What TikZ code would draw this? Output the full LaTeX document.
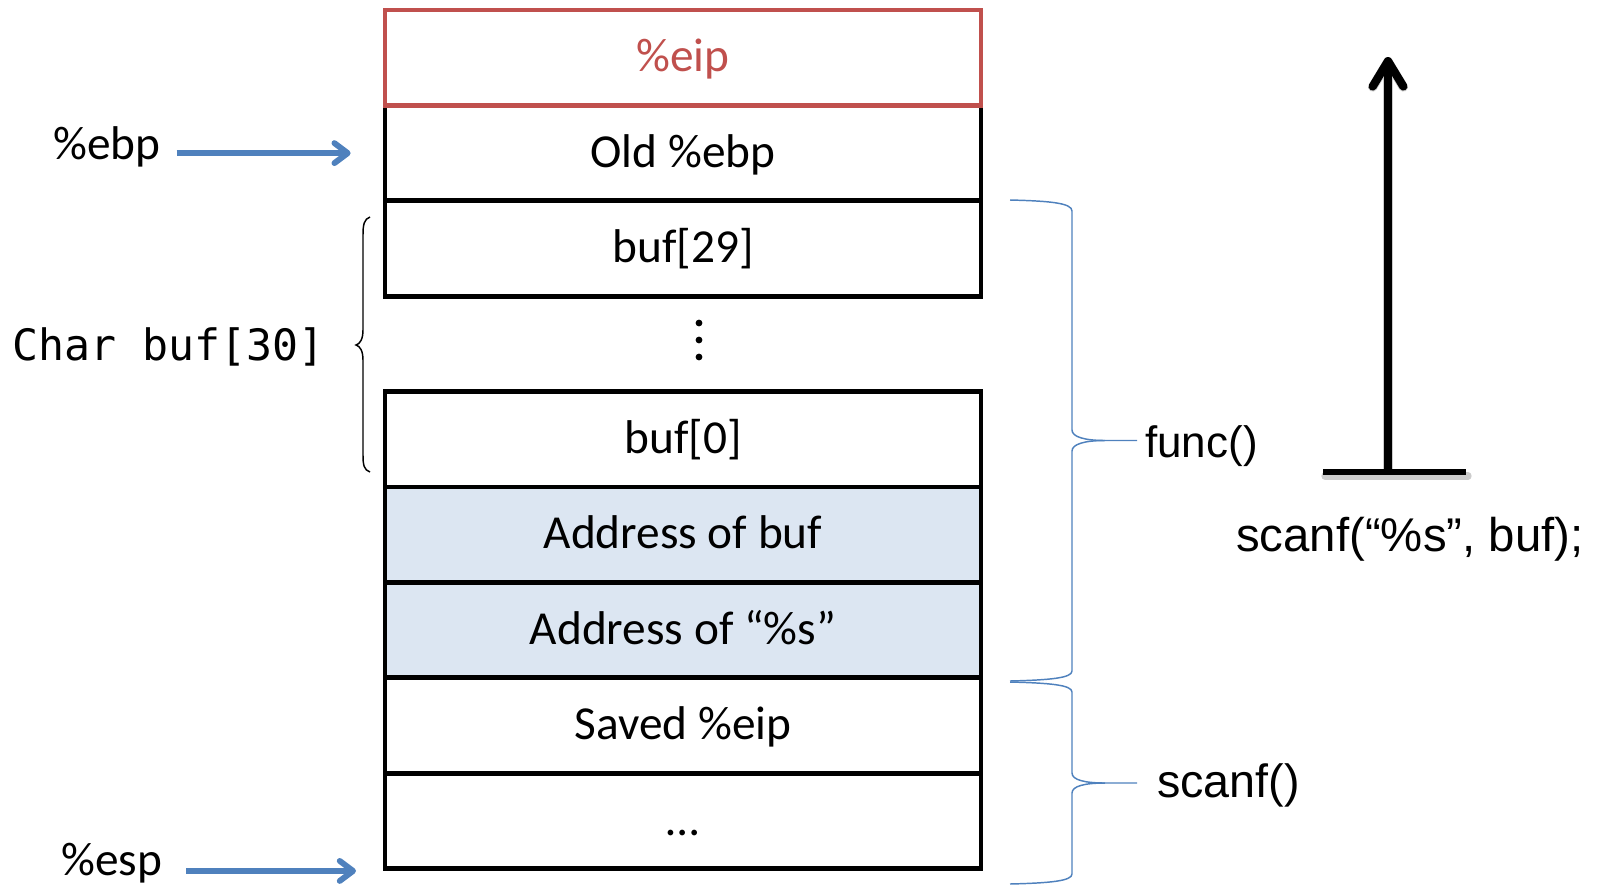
\documentclass[tikz,border=0pt]{standalone}
\usepackage{fontspec}
\setmainfont{Carlito}
\newfontfamily\arialfont{Liberation Sans}
\newfontfamily\consfont{DejaVu Sans Mono}
\usetikzlibrary{arrows.meta}

\definecolor{eipred}{RGB}{192,80,77}
\definecolor{argfill}{RGB}{220,230,242}
\definecolor{regblue}{RGB}{79,129,189}

\tikzset{
  cell/.style={draw=black, line width=3.5pt, minimum width=447pt, minimum height=71.55pt,
    inner sep=0pt, text height=28.4pt, text depth=7.1pt, font=\fontsize{35.5}{40}\selectfont},
  arg/.style={cell, fill=argfill},
  reglbl/.style={inner sep=0pt, anchor=base west, font=\fontsize{35.5}{40}\selectfont},
  regptr/.style={draw=regblue, line width=4.4pt, -{Straight Barb[length=10pt,width=15pt,round]}},
  frame/.style={draw=regblue, line width=1.1pt},
  framelbl/.style={inner sep=0pt, anchor=base west, font=\arialfont\fontsize{35}{40}\selectfont},
}

\begin{document}
\begin{tikzpicture}[x=0.75pt,y=0.75pt,yscale=-1,xscale=1]
\useasboundingbox (0,0) rectangle (1606,886);

% stack cells, top to bottom
\node[cell] (oldebp) at (683,153.1) {Old \%ebp};
\node[cell, draw=eipred, text=eipred] (eip) at (683,57.7) {\%eip};
\node[cell] (buf29) at (683,248.5) {buf[29]};
\node[cell] (buf0) at (683,439.3) {buf[0]};
\node[arg] (argbuf) at (683,534.7) {Address of buf};
\node[arg] (argfmt) at (683,630.1) {Address of “\%s”};
\node[cell] (savedeip) at (683,725.5) {Saved \%eip};
\node[cell] (rest) at (683,820.9) {…};

% skipped slots
\foreach \y in {323,340,357}
  \fill (699,\y) circle (3.4);

% registers
\node[reglbl] (ebplbl) at (53,159) {\%ebp};
\draw[regptr, shorten <=12pt, shorten >=24pt] (ebplbl.east |- oldebp.west) -- (oldebp.west);

\node[reglbl] (esplbl) at (61,875) {\%esp};
\draw[regptr, shorten <=18pt, shorten >=20pt] (esplbl.east |- rest.south west) -- (rest.south west);

% the array
\node[inner sep=0pt, anchor=base west, font=\consfont\fontsize{32.4}{38}\selectfont] (bufdecl) at (12,360) {Char buf[30]};
\draw[line width=1.1pt] (370,217) .. controls (364,219) and (363,225) .. (363,235) -- (363,330)
  .. controls (363,339) and (360,344) .. (356,345) .. controls (360,346) and (363,351) .. (363,360)
  -- (363,455) .. controls (363,465) and (364,470) .. (370,472);

% frames
\coordinate (functip) at (1137,440.5);
\draw[frame] (1010,200) .. controls (1050,201) and (1072,203) .. (1072,211) -- (1072,430)
  .. controls (1072,437) and (1085,440.5) .. (1105,440.5) -- (functip);
\draw[frame] (1105,440.5) .. controls (1085,440.5) and (1072,444) .. (1072,451) -- (1072,671)
  .. controls (1072,678) and (1050,680) .. (1010,681);
\node[framelbl, font=\arialfont\fontsize{33}{38}\selectfont] (funclbl) at (1145,457) {func()};

\coordinate (scanftip) at (1137,783);
\draw[frame] (1010,682) .. controls (1050,683) and (1072,685) .. (1072,692) -- (1072,773)
  .. controls (1072,780) and (1085,783) .. (1105,783) -- (scanftip);
\draw[frame] (1105,783) .. controls (1085,783) and (1072,786) .. (1072,793) -- (1072,874)
  .. controls (1072,881) and (1050,883) .. (1010,884);
\node[framelbl] (scanflbl) at (1157,797) {scanf()};

% stack growth, with a soft shadow
\coordinate (callbase) at (1388,471);
\coordinate (calltop) at (1388,57);
\begin{scope}[shift={(2,4)}, draw=black!20, line cap=round]
  \draw[line width=7pt, -{Straight Barb[length=19pt,width=23pt,round]}] (callbase) -- (calltop);
  \draw[line width=5.5pt] (1323,472) -- (1466,472);
\end{scope}
\draw[line width=6.2pt, -{Straight Barb[length=19pt,width=23pt,round]}] (callbase) -- (calltop);
\draw[line width=4.3pt] (1323,472) -- (1466,472);
\node[framelbl, font=\arialfont\fontsize{35.5}{40}\selectfont] (calllbl) at (1236,551) {scanf(“\%s”, buf);};

\end{tikzpicture}
\end{document}
